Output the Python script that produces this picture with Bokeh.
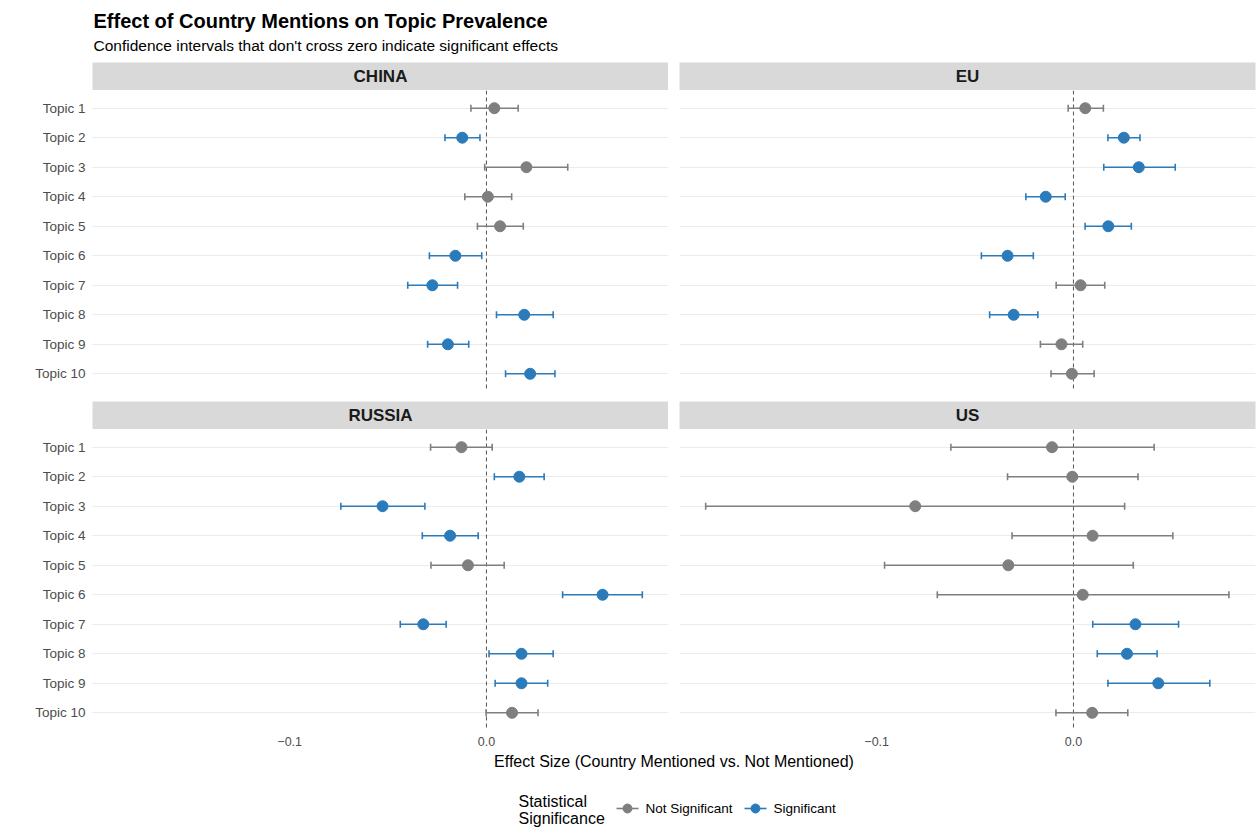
import numpy as np
from bokeh.plotting import figure
from bokeh.layouts import column, row
from bokeh.models import Range1d, FixedTicker, Span, Grid, ColumnDataSource, PrintfTickFormatter
from bokeh.embed import file_html
from bokeh.resources import INLINE
from bokeh.core.properties import value

# ---------------- data ----------------
topics = [f"Topic {i}" for i in range(1, 11)]
countries = ["CHINA", "EU", "RUSSIA", "US"]

china_est = [0.0040, -0.0123, 0.0203, 0.0007, 0.0069, -0.0158, -0.0275, 0.0192, -0.0196, 0.0222]
china_lo = [-0.0079, -0.0211, -0.0009, -0.0110, -0.0046, -0.0290, -0.0400, 0.0051, -0.0299, 0.0097]
china_hi = [0.0161, -0.0033, 0.0413, 0.0128, 0.0187, -0.0024, -0.0147, 0.0339, -0.0090, 0.0348]

eu_est = [0.0060, 0.0256, 0.0332, -0.0141, 0.0177, -0.0335, 0.0036, -0.0304, -0.0061, -0.0008]
eu_lo = [-0.0027, 0.0175, 0.0154, -0.0242, 0.0059, -0.0468, -0.0088, -0.0426, -0.0168, -0.0114]
eu_hi = [0.0152, 0.0338, 0.0517, -0.0042, 0.0294, -0.0204, 0.0159, -0.0181, 0.0047, 0.0105]

russia_est = [-0.0127, 0.0167, -0.0528, -0.0185, -0.0094, 0.0590, -0.0321, 0.0178, 0.0178, 0.0130]
russia_lo = [-0.0284, 0.0040, -0.0740, -0.0326, -0.0282, 0.0387, -0.0438, 0.0013, 0.0044, -0.0002]
russia_hi = [0.0029, 0.0293, -0.0313, -0.0042, 0.0090, 0.0792, -0.0205, 0.0339, 0.0311, 0.0262]

us_est = [-0.0109, -0.0006, -0.0804, 0.0097, -0.0331, 0.0047, 0.0315, 0.0272, 0.0431, 0.0095]
us_lo = [-0.0623, -0.0335, -0.1869, -0.0312, -0.0960, -0.0692, 0.0098, 0.0121, 0.0175, -0.0089]
us_hi = [0.0410, 0.0328, 0.0260, 0.0505, 0.0304, 0.0790, 0.0534, 0.0425, 0.0693, 0.0276]

x_ticks = [-0.1, 0.0]
x_tick_labels = ["\u22120.1", "0.0"]

data = {
    "CHINA": (china_est, china_lo, china_hi),
    "EU": (eu_est, eu_lo, eu_hi),
    "RUSSIA": (russia_est, russia_lo, russia_hi),
    "US": (us_est, us_lo, us_hi),
}

# ---------------- style ----------------
FONT = "Liberation Sans"
GRAY = "#7f7f7f"
BLUE = "#2b7bba"
W = 1257
LEFT_B = 92
GAP = 11
FW = 576
RIGHT_B = W - LEFT_B - GAP - 2 * FW
FH = 301
STRIP_H = 28
HEADER_H = 62
TOP_GAP = 10
BOTTOM_B = 21
FOOTER_H = 834 - HEADER_H - 2 * STRIP_H - 2 * FH - TOP_GAP - BOTTOM_B

all_lo = min(min(v[1]) for v in data.values())
all_hi = max(max(v[2]) for v in data.values())
pad = 0.05 * (all_hi - all_lo)
x_start, x_end = all_lo - pad, all_hi + pad
ys = list(range(1, len(topics) + 1))


def borders(left):
    return (LEFT_B, 0) if left else (GAP, RIGHT_B)


def base_fig(width, height, xr, yr, **kw):
    p = figure(width=width, height=height, x_range=xr, y_range=yr,
               toolbar_location=None, output_backend="svg", **kw)
    p.outline_line_color = None
    p.border_fill_color = "white"
    p.background_fill_color = "white"
    p.xgrid.visible = False
    p.ygrid.visible = False
    return p


def strip(name, left):
    bl, br = borders(left)
    p = base_fig(bl + FW + br, STRIP_H, Range1d(0, 1), Range1d(0, 1),
                 x_axis_location=None, y_axis_location=None,
                 min_border_left=bl, min_border_right=br, min_border_top=0, min_border_bottom=0)
    p.background_fill_color = "#d9d9d9"
    p.text(x=[0.5], y=[0.5], text=[name], text_align="center", text_baseline="middle",
           text_font=value(FONT), text_font_style="bold", text_font_size="17px", text_color="#1a1a1a")
    return p


def panel(key, left, bottom):
    est, lo, hi = data[key]
    sig = [(l > 0) or (h < 0) for l, h in zip(lo, hi)]
    colors = [BLUE if s else GRAY for s in sig]
    src = ColumnDataSource(dict(y=ys, est=est, lo=lo, hi=hi, color=colors))
    bl, br = borders(left)
    bb = BOTTOM_B if bottom else TOP_GAP
    p = base_fig(bl + FW + br, FH + bb, Range1d(x_start, x_end),
                 Range1d(len(topics) + 0.6, 0.4),
                 x_axis_location="below" if bottom else None,
                 y_axis_location="left" if left else None,
                 min_border_left=bl, min_border_right=br, min_border_top=0, min_border_bottom=bb)
    p.add_layout(Grid(dimension=1, ticker=FixedTicker(ticks=ys),
                      grid_line_color="#ebebeb", grid_line_width=1.1))
    if left:
        ax = p.yaxis[0]
        ax.ticker = FixedTicker(ticks=ys)
        ax.major_label_overrides = {y: t for y, t in zip(ys, topics)}
        ax.axis_line_color = None
        ax.major_tick_line_color = None
        ax.minor_tick_line_color = None
        ax.major_tick_out = 0
        ax.major_tick_in = 0
        ax.major_label_standoff = 7
        ax.major_label_text_font = FONT
        ax.major_label_text_font_size = "13.5px"
        ax.major_label_text_color = "#4d4d4d"
    if bottom:
        ax = p.xaxis[0]
        ax.ticker = FixedTicker(ticks=x_ticks)
        ax.formatter = PrintfTickFormatter(format="%.1f")
        ax.major_label_overrides = {t: l for t, l in zip(x_ticks, x_tick_labels)}
        ax.axis_line_color = None
        ax.major_tick_line_color = None
        ax.minor_tick_line_color = None
        ax.major_tick_out = 0
        ax.major_tick_in = 0
        ax.major_label_standoff = 6
        ax.major_label_text_font = FONT
        ax.major_label_text_font_size = "12.5px"
        ax.major_label_text_color = "#4d4d4d"
    zero = Span(location=0, dimension="height", line_color="#555555",
                line_dash="4 3", line_width=1, level="underlay")
    p.add_layout(zero)
    p.segment(x0="lo", y0="y", x1="hi", y1="y", source=src, line_color="color", line_width=1.6)
    for c in ("lo", "hi"):
        p.scatter(x=c, y="y", source=src, marker="dash", angle=np.pi / 2, size=7,
                  line_color="color", line_width=1.6)
    p.scatter(x="est", y="y", source=src, marker="circle", size=11,
              fill_color="color", line_color="color")
    return p


# ---------------- header ----------------
header = base_fig(W, HEADER_H, Range1d(0, W), Range1d(HEADER_H, 0),
                  x_axis_location=None, y_axis_location=None, min_border=0)
header.text(x=[93], y=[20], text=["Effect of Country Mentions on Topic Prevalence"],
            text_baseline="middle", text_font=value(FONT), text_font_style="bold",
            text_font_size="20px", text_color="#000000")
header.text(x=[93], y=[45], text=["Confidence intervals that don't cross zero indicate significant effects"],
            text_baseline="middle", text_font=value(FONT), text_font_size="15.5px", text_color="#000000")

# ---------------- footer ----------------
footer = base_fig(W, FOOTER_H, Range1d(0, W), Range1d(FOOTER_H, 0),
                  x_axis_location=None, y_axis_location=None, min_border=0)
footer.text(x=[LEFT_B + (W - LEFT_B - RIGHT_B) / 2], y=[10],
            text=["Effect Size (Country Mentioned vs. Not Mentioned)"],
            text_align="center", text_baseline="middle", text_font=value(FONT),
            text_font_size="16px", text_color="#000000")
footer.text(x=[518, 518], y=[50, 67], text=["Statistical", "Significance"],
            text_baseline="middle", text_font=value(FONT), text_font_size="16px", text_color="#000000")
leg_labels = ["Not Significant", "Significant"]
leg_colors = [GRAY, BLUE]
leg_x = [627, 755]
footer.segment(x0=[x - 11 for x in leg_x], y0=[57, 57], x1=[x + 11 for x in leg_x], y1=[57, 57],
               line_color=leg_colors, line_width=1.6)
footer.scatter(x=leg_x, y=[57, 57], size=9, fill_color=leg_colors, line_color=leg_colors)
footer.text(x=[x + 18 for x in leg_x], y=[57, 57], text=leg_labels, text_baseline="middle",
            text_font=value(FONT), text_font_size="13.5px", text_color="#000000")

layout = column(
    header,
    row(strip("CHINA", True), strip("EU", False)),
    row(panel("CHINA", True, False), panel("EU", False, False)),
    row(strip("RUSSIA", True), strip("US", False)),
    row(panel("RUSSIA", True, True), panel("US", False, True)),
    footer,
)

open("out.html", "w").write(file_html(layout, INLINE))
